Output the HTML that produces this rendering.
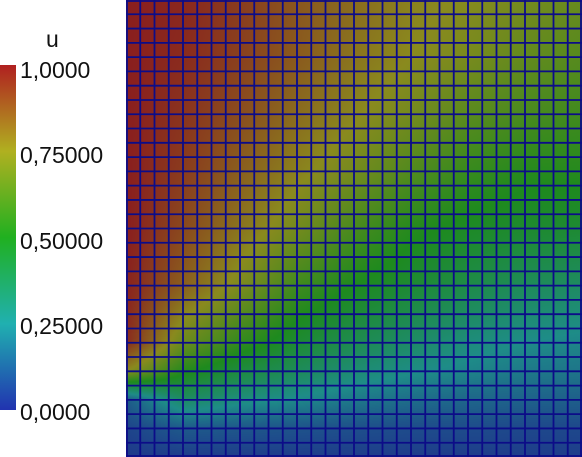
<!DOCTYPE html>
<html><head><meta charset="utf-8"><style>
body{margin:0;width:582px;height:457px;background:#fff;overflow:hidden;position:relative;font-family:"Liberation Sans",sans-serif}
#bar{position:absolute;left:0;top:65px;width:16px;height:345px;background:linear-gradient(to top,#2133b0,#20b0b0 25%,#20b020 50%,#b0b020 75%,#b02020)}
.lbl{position:absolute;left:20px;font-size:23px;color:#111;line-height:1}
#plot{position:absolute;left:126px;top:0}
</style></head><body>
<div class="lbl" style="left:46px;top:28px">u</div>
<div id="bar"></div>
<div class="lbl" style="top:59px">1,0000</div>
<div class="lbl" style="top:144px">0,75000</div>
<div class="lbl" style="top:230px">0,50000</div>
<div class="lbl" style="top:315px">0,25000</div>
<div class="lbl" style="top:401px">0,0000</div>
<canvas id="plot" width="456" height="457"></canvas>
<svg id="grid" width="456" height="457" style="position:absolute;left:126px;top:0"></svg>
<script>
const rowCells=[0,4,8,12,16,20,24,26,28,30,32];
const row0=[1.0,0.98,0.93,0.87,0.82,0.77,0.74,0.70,0.67];
const row1=[1.0,0.97,0.92,0.86,0.80,0.75,0.71,0.66,0.63];
const row2=[1.0,0.95,0.89,0.82,0.76,0.70,0.64,0.60,0.58];
const row3=[1.0,0.93,0.85,0.77,0.70,0.62,0.56,0.52,0.52];
const row4=[1.0,0.90,0.80,0.70,0.60,0.52,0.48,0.46,0.45];
const row5=[0.99,0.85,0.72,0.58,0.50,0.45,0.40,0.36,0.34];
const row6=[0.97,0.68,0.55,0.45,0.38,0.33,0.28,0.25,0.23];
const row7=[0.75,0.52,0.42,0.36,0.30,0.26,0.23,0.20,0.19];
const row8=[0.12,0.34,0.28,0.24,0.20,0.17,0.15,0.14,0.13];
const row9=[0.06,0.12,0.11,0.10,0.09,0.08,0.08,0.07,0.07];
const row10=[0.03,0.04,0.04,0.04,0.04,0.04,0.04,0.04,0.04];
const gridCells=32;
const rows=[row0,row1,row2,row3,row4,row5,row6,row7,row8,row9,row10];
const stops=[[0,[30,46,140]],[0.25,[30,140,136]],[0.5,[30,138,30]],[0.75,[138,138,30]],[1,[138,30,30]]];
function cmap(v){v=Math.max(0,Math.min(1,v));for(let i=1;i<stops.length;i++){if(v<=stops[i][0]){const a=stops[i-1],b=stops[i],t=(v-a[0])/(b[0]-a[0]);return a[1].map((c,k)=>c+(b[1][k]-c)*t);}}return stops[4][1];}
const W=456,H=457,cv=document.getElementById('plot'),ctx=cv.getContext('2d'),img=ctx.createImageData(W,H);
const nc=rows[0].length-1;
for(let y=0;y<H;y++){const cy=y/(H-1)*gridCells;let r=0;while(r<rowCells.length-2&&cy>rowCells[r+1])r++;
const ty=(cy-rowCells[r])/(rowCells[r+1]-rowCells[r]);
for(let x=0;x<W;x++){const fx=x/(W-1)*nc,c=Math.min(nc-1,Math.floor(fx)),tx=fx-c;
const v=(rows[r][c]*(1-tx)+rows[r][c+1]*tx)*(1-ty)+(rows[r+1][c]*(1-tx)+rows[r+1][c+1]*tx)*ty;
const col=cmap(v),i=(y*W+x)*4;img.data[i]=col[0];img.data[i+1]=col[1];img.data[i+2]=col[2];img.data[i+3]=255;}}
ctx.putImageData(img,0,0);
const svg=document.getElementById('grid'),ns='http://www.w3.org/2000/svg';
for(let i=0;i<=gridCells;i++){
const x=Math.min(W-1,Math.max(1,i*W/gridCells)),y=Math.min(H-1,Math.max(1,i*H/gridCells));
const v=document.createElementNS(ns,'line');


v.setAttribute('x1',x);v.setAttribute('x2',x);v.setAttribute('y1',0);v.setAttribute('y2',H);
v.setAttribute('stroke','#0c0c88');v.setAttribute('stroke-width','1.8');svg.appendChild(v);
const h=document.createElementNS(ns,'line');


h.setAttribute('y1',y);h.setAttribute('y2',y);h.setAttribute('x1',0);h.setAttribute('x2',W);
h.setAttribute('stroke','#0c0c88');h.setAttribute('stroke-width','1.8');svg.appendChild(h);}
</script>
</body></html>
